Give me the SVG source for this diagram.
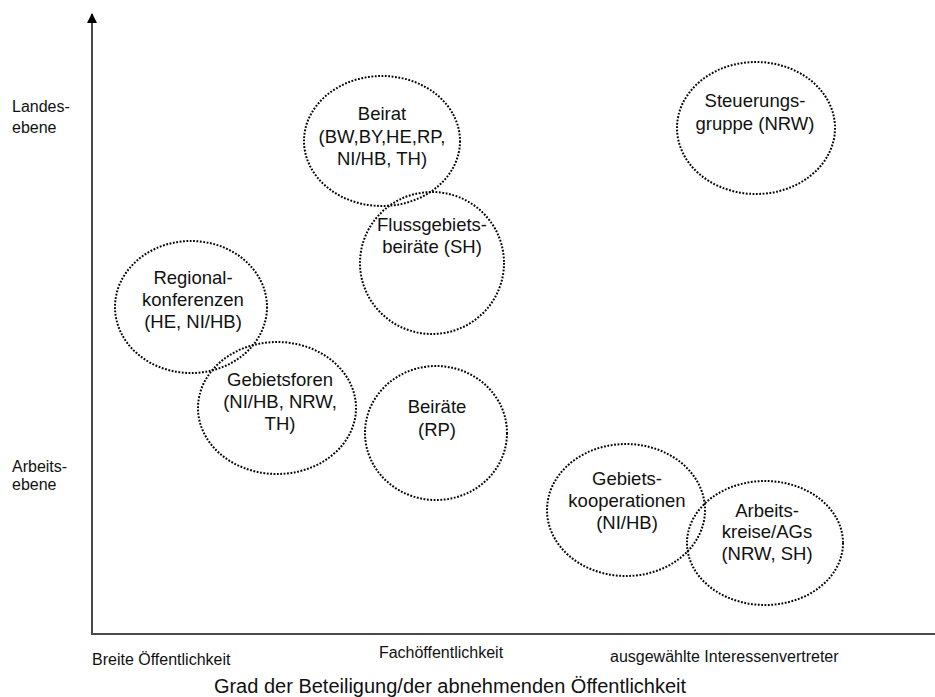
<svg xmlns="http://www.w3.org/2000/svg" width="935" height="697" viewBox="0 0 935 697">
  <style>
    .node ellipse { fill: none; stroke: #000; stroke-width: 2; stroke-dasharray: 1.8 1.6; }
    .node text { font-family: "Liberation Sans", Arial, sans-serif; font-size: 18.5px; fill: #111; text-anchor: middle; }
    .axis { stroke: #4a4a4a; stroke-width: 2; fill: none; }
    .lbl { font-family: "Liberation Sans", Arial, sans-serif; font-size: 16px; fill: #111; }
    .title { font-family: "Liberation Sans", Arial, sans-serif; font-size: 20px; fill: #111; text-anchor: middle; }
  </style>
  <defs>
    <marker id="arrow" viewBox="0 0 10 10" refX="9" refY="5" markerWidth="10" markerHeight="10" markerUnits="userSpaceOnUse" orient="auto">
      <path d="M0,0 L10,5 L0,10 Z" fill="#000"/>
    </marker>
  </defs>
  <rect width="935" height="697" fill="#fff"/>

  <!-- axes -->
  <g id="connectors">
    <path class="axis" d="M92,634 L92,14" marker-end="url(#arrow)"/>
    <path class="axis" d="M91,634 L935,634"/>
  </g>

  <!-- axis labels -->
  <g id="axis-labels">
    <text class="lbl" x="12" y="112">Landes-</text>
    <text class="lbl" x="12" y="133">ebene</text>
    <text class="lbl" x="12" y="472">Arbeits-</text>
    <text class="lbl" x="12" y="490">ebene</text>
    <text class="lbl" x="92" y="665">Breite Öffentlichkeit</text>
    <text class="lbl" x="441" y="658" text-anchor="middle">Fachöffentlichkeit</text>
    <text class="lbl" x="610" y="662">ausgewählte Interessenvertreter</text>
    <text class="title" x="450" y="693">Grad der Beteiligung/der abnehmenden Öffentlichkeit</text>
  </g>

  <g id="beirat" class="node">
    <ellipse cx="382" cy="141" rx="78" ry="65"/>
    <text x="382" y="120">Beirat</text>
    <text x="382" y="143">(BW,BY,HE,RP,</text>
    <text x="382" y="165">NI/HB, TH)</text>
  </g>

  <g id="flussgebietsbeiraete" class="node">
    <ellipse cx="432" cy="263" rx="72" ry="71"/>
    <text x="432" y="231">Flussgebiets-</text>
    <text x="432" y="253">beiräte (SH)</text>
  </g>

  <g id="steuerungsgruppe" class="node">
    <ellipse cx="756" cy="128" rx="79" ry="66"/>
    <text x="755" y="107">Steuerungs-</text>
    <text x="755" y="130">gruppe (NRW)</text>
  </g>

  <g id="regionalkonferenzen" class="node">
    <ellipse cx="191" cy="307" rx="76" ry="66"/>
    <text x="193" y="284">Regional-</text>
    <text x="193" y="306">konferenzen</text>
    <text x="193" y="328">(HE, NI/HB)</text>
  </g>

  <g id="gebietsforen" class="node">
    <ellipse cx="277" cy="408" rx="79" ry="66"/>
    <text x="280" y="386">Gebietsforen</text>
    <text x="280" y="408">(NI/HB, NRW,</text>
    <text x="280" y="430">TH)</text>
  </g>

  <g id="beiraete-rp" class="node">
    <ellipse cx="436" cy="433" rx="71" ry="67"/>
    <text x="437" y="413">Beiräte</text>
    <text x="437" y="436">(RP)</text>
  </g>

  <g id="gebietskooperationen" class="node">
    <ellipse cx="626" cy="510" rx="79" ry="66"/>
    <text x="627" y="485">Gebiets-</text>
    <text x="627" y="507">kooperationen</text>
    <text x="627" y="529">(NI/HB)</text>
  </g>

  <g id="arbeitskreise" class="node">
    <ellipse cx="765" cy="543" rx="78" ry="62"/>
    <text x="767" y="517">Arbeits-</text>
    <text x="767" y="538">kreise/AGs</text>
    <text x="767" y="560">(NRW, SH)</text>
  </g>
</svg>
